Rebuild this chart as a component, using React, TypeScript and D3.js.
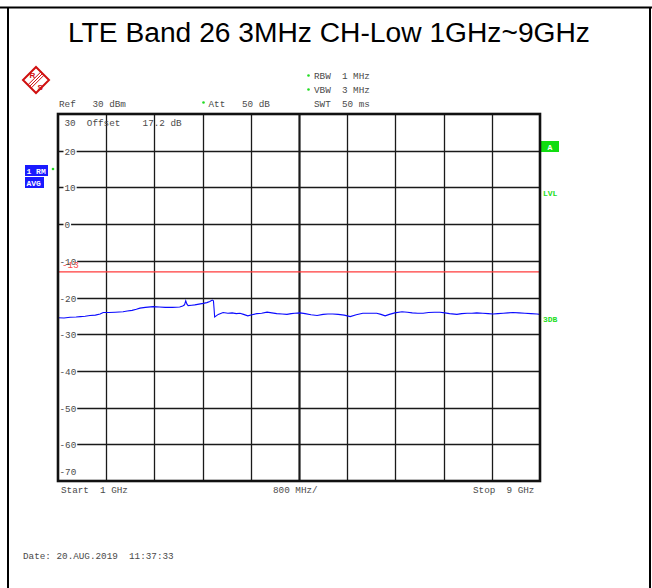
import React from "react";
import * as d3 from "d3";

const titleText = "LTE Band 26 3MHz CH-Low 1GHz~9GHz";
const yTickValues = [20, 10, 0, -10, -20, -30, -40, -50, -60];
const xDivisions = [1.8, 2.6, 3.4, 4.2, 5.0, 5.8, 6.6, 7.4, 8.2];
const limitLine = -13;

const freqGHz = [1.00,1.10,1.20,1.30,1.37,1.45,1.53,1.62,1.70,1.75,1.85,1.95,2.08,2.15,2.23,2.30,2.36,2.45,2.58,2.68,2.78,2.90,3.02,3.07,3.10,3.12,3.14,3.16,3.22,3.27,3.34,3.41,3.47,3.52,3.56,3.58,3.59,3.60,3.66,3.74,3.82,3.89,3.96,4.02,4.08,4.15,4.22,4.30,4.38,4.47,4.55,4.63,4.72,4.80,4.87,4.93,5.02,5.10,5.20,5.30,5.40,5.48,5.56,5.65,5.75,5.85,5.95,6.06,6.18,6.29,6.36,6.43,6.50,6.59,6.71,6.80,6.88,6.97,7.06,7.15,7.25,7.34,7.42,7.50,7.62,7.70,7.79,7.87,7.95,8.05,8.14,8.22,8.30,8.39,8.47,8.55,8.65,8.75,8.85,8.95,9.00];
const levelDbm = [-25.5,-25.6,-25.4,-25.3,-25.2,-25.1,-24.9,-24.8,-24.5,-24.1,-24.1,-24.0,-23.9,-23.7,-23.5,-23.2,-22.9,-22.7,-22.5,-22.6,-22.7,-22.7,-22.6,-22.3,-22.0,-20.9,-21.8,-22.2,-22.1,-22.0,-21.8,-21.6,-21.4,-21.1,-20.7,-20.9,-23.0,-25.3,-24.6,-24.1,-24.3,-24.2,-24.4,-24.3,-24.6,-25.0,-24.7,-24.4,-24.3,-24.0,-24.2,-24.4,-24.5,-24.6,-24.4,-24.3,-24.2,-24.4,-24.7,-24.9,-24.6,-24.5,-24.5,-24.6,-24.8,-25.2,-24.7,-24.3,-24.3,-24.3,-24.6,-25.0,-24.6,-24.2,-23.9,-24.0,-24.2,-24.3,-24.3,-24.1,-24.0,-24.0,-24.2,-24.4,-24.6,-24.4,-24.3,-24.3,-24.2,-24.3,-24.4,-24.5,-24.4,-24.3,-24.2,-24.1,-24.2,-24.3,-24.4,-24.5,-24.6];

const MONO = "'Liberation Mono', 'DejaVu Sans Mono', monospace";
const FS = 9.3;
const CW = FS * 0.6;
const LABEL = "#4a4a4a";
const GREEN = "#22dd22";

export default function App() {
  const W = 652, H = 588;
  const x = d3.scaleLinear().domain([1, 9]).range([58, 540]);
  const y = d3.scaleLinear().domain([-70, 30]).range([481, 114]);
  const line = d3.line<number>().x((_, i) => x(freqGHz[i])).y((d) => y(d));
  const pre: React.CSSProperties = { whiteSpace: "pre" };

  const mono = (tx: number, ty: number, s: string, fill = LABEL, extra: any = {}) => (
    <text x={tx} y={ty} fontFamily={MONO} fontSize={FS} fill={fill} style={pre} xmlSpace="preserve" {...extra}>{s}</text>
  );

  const cx = 36, cy = 80, r = 13;
  return (
    <svg width={W} height={H} style={{ position: "absolute", left: 0, top: 0, background: "#fff" }}>
      <rect x={0} y={0} width={W} height={H} fill="#fff" />
      {/* outer frame */}
      <line x1={0} x2={W} y1={7.5} y2={7.5} stroke="#000" strokeWidth={2} />
      <line x1={8} x2={8} y1={7} y2={H} stroke="#000" strokeWidth={2} />
      <line x1={650} x2={650} y1={7} y2={H} stroke="#000" strokeWidth={2} />

      <text x={329} y={42} textAnchor="middle" fontFamily="'Liberation Sans', Arial, sans-serif" fontSize={28.2} fill="#000">{titleText}</text>

      {/* logo */}
      <g stroke="#d01010" fill="none">
        <path d={`M${cx},${cy - r}L${cx + r},${cy}L${cx},${cy + r}L${cx - r},${cy}Z`} strokeWidth={2} />
        {[-1.6, 0, 1.6].map((o) => (
          <line key={o} x1={cx - r / 2 + o} y1={cy + r / 2 + o} x2={cx + r / 2 + o} y2={cy - r / 2 + o} strokeWidth={1} />
        ))}
      </g>
      <text x={29.5} y={78} fontFamily="'Liberation Sans', sans-serif" fontSize={8} fontWeight="bold" fill="#d01010">R</text>
      <text x={37.5} y={90} fontFamily="'Liberation Sans', sans-serif" fontSize={8} fontWeight="bold" fill="#d01010">S</text>

      {/* header labels */}
      <circle cx={308.5} cy={75.5} r={1.3} fill={GREEN} />
      {mono(314, 79, "RBW  1 MHz")}
      <circle cx={308.5} cy={89.5} r={1.3} fill={GREEN} />
      {mono(314, 93, "VBW  3 MHz")}
      {mono(314, 107, "SWT  50 ms")}
      {mono(59, 107, "Ref   30 dBm")}
      <circle cx={203.5} cy={102.5} r={1.3} fill={GREEN} />
      {mono(208.5, 107, "Att   50 dB")}

      {/* left boxes */}
      <rect x={25} y={165} width={23} height={11} fill="#1a1aff" />
      <text x={26.5} y={173.5} fontFamily={MONO} fontSize={8} fontWeight="bold" fill="#fff" style={pre} xmlSpace="preserve">1 RM</text>
      <circle cx={53} cy={169} r={1.3} fill={GREEN} />
      <rect x={25} y={177} width={19} height={11} fill="#1a1aff" />
      <text x={26.5} y={185.5} fontFamily={MONO} fontSize={8} fontWeight="bold" fill="#fff">AVG</text>

      {/* right labels */}
      <rect x={541} y={141} width={18} height={11} fill="#11dd11" />
      <text x={550} y={149.5} textAnchor="middle" fontFamily={MONO} fontSize={8} fontWeight="bold" fill="#fff">A</text>
      <text x={543} y={196} fontFamily={MONO} fontSize={8} fontWeight="bold" fill={GREEN}>LVL</text>
      <text x={543} y={322} fontFamily={MONO} fontSize={8} fontWeight="bold" fill={GREEN}>3DB</text>

      {/* grid */}
      <g>
        {xDivisions.map((f) => (
          <line key={f} x1={Math.round(x(f)) + 0.5} x2={Math.round(x(f)) + 0.5} y1={y(30)} y2={y(-70)}
            stroke="#1a1a1a" strokeWidth={f === 5.0 ? 2.2 : 1.3} />
        ))}
        {yTickValues.map((v) => (
          <line key={v} x1={x(1)} x2={x(9)} y1={Math.round(y(v)) + 0.5} y2={Math.round(y(v)) + 0.5}
            stroke="#1a1a1a" strokeWidth={1.3} />
        ))}
      </g>

      {/* y labels with white background */}
      {yTickValues.map((v) => {
        const s = String(v);
        const tx = v < 0 ? 59.5 : 64.5;
        const yy = Math.round(y(v)) + 0.5;
        return (
          <g key={"l" + v}>
            <rect x={tx - 1} y={yy - 4} width={s.length * CW + 2} height={8} fill="#fff" />
            {mono(tx, yy + 3.2, s)}
          </g>
        );
      })}
      {mono(59.5, 474.5, "-70")}
      {mono(64.5, 125.5, "30  Offset    17.2 dB")}

      {/* limit line */}
      <line x1={x(1)} x2={x(9)} y1={y(limitLine)} y2={y(limitLine)} stroke="#ff3b3b" strokeWidth={1.3} />
      {mono(62, 268, "-13", "#ff4a4a")}

      {/* trace */}
      <path d={line(levelDbm) || ""} fill="none" stroke="#0a0aff" strokeWidth={1.1} />

      {/* plot border */}
      <rect x={x(1)} y={y(30)} width={x(9) - x(1)} height={y(-70) - y(30)} fill="none" stroke="#111" strokeWidth={2.6} />

      {/* bottom labels */}
      {mono(61, 493, "Start  1 GHz")}
      {mono(273, 493, "800 MHz/")}
      {mono(473, 493, "Stop  9 GHz")}
      {mono(23, 559, "Date: 20.AUG.2019  11:37:33")}
    </svg>
  );
}
